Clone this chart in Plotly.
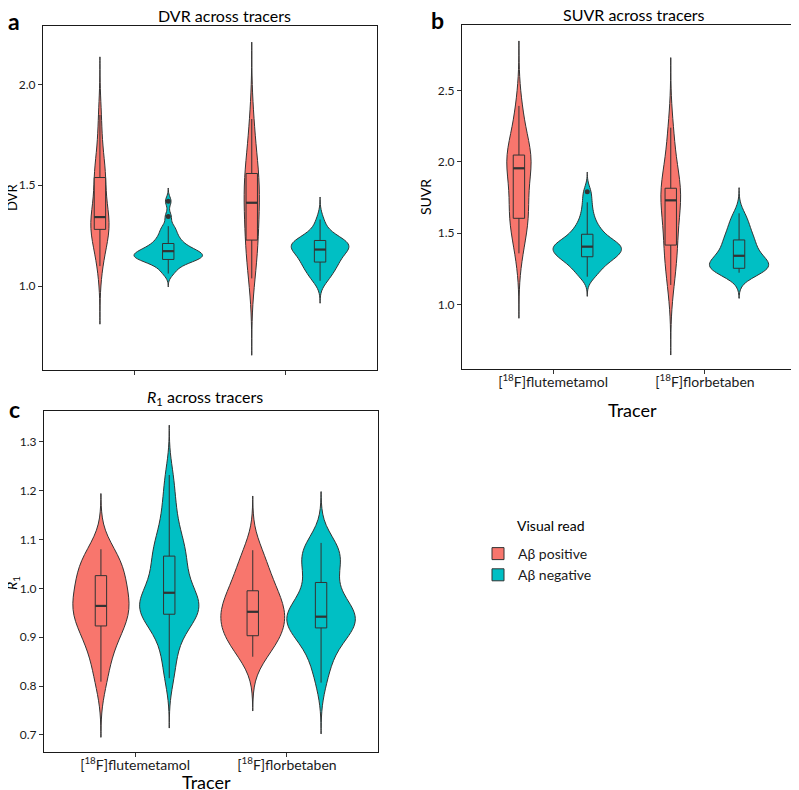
import plotly.graph_objects as go

# colours used by ggplot's default two-level palette
POS_COL = "#F8766D"
NEG_COL = "#00BFC4"
EDGE = "#333333"

tracers = ["[<sup>18</sup>F]flutemetamol", "[<sup>18</sup>F]florbetaben"]
groups = ["Aβ positive", "Aβ negative"]

# ---- DVR samples (estimated from the violin shapes) ----
dvr_flut_pos = [1.099, 1.16, 1.22, 1.25, 1.27, 1.29, 1.30, 1.31, 1.33, 1.342, 1.37, 1.42,
                1.50, 1.53, 1.55, 1.57, 1.62, 1.72, 1.848]
dvr_flut_neg = [1.062, 1.08, 1.10, 1.11, 1.12, 1.125, 1.13, 1.135, 1.14, 1.143, 1.146, 1.15,
                1.153, 1.156, 1.16, 1.165, 1.17, 1.175, 1.18, 1.185, 1.19, 1.20, 1.21, 1.22,
                1.23, 1.245, 1.26, 1.28, 1.297, 1.345, 1.42]
dvr_flor_pos = [1.038, 1.10, 1.17, 1.22, 1.25, 1.30, 1.36, 1.40, 1.43, 1.47, 1.52, 1.55,
                1.57, 1.63, 1.72, 1.828]
dvr_flor_neg = [1.026, 1.04, 1.06, 1.075, 1.09, 1.10, 1.11, 1.12, 1.13, 1.14, 1.15, 1.16,
                1.17, 1.18, 1.185, 1.19, 1.195, 1.20, 1.205, 1.21, 1.215, 1.22, 1.225, 1.23,
                1.24, 1.26, 1.29, 1.33]

# ---- SUVR samples ----
suvr_flut_pos = [1.358, 1.45, 1.55, 1.60, 1.62, 1.65, 1.70, 1.78, 1.86, 1.955, 1.97, 1.99,
                 2.01, 2.04, 2.06, 2.10, 2.18, 2.28, 2.393]
suvr_flut_neg = [1.194, 1.22, 1.25, 1.27, 1.29, 1.31, 1.32, 1.33, 1.34, 1.35, 1.36, 1.37,
                 1.38, 1.39, 1.40, 1.405, 1.41, 1.42, 1.43, 1.44, 1.45, 1.47, 1.49, 1.51,
                 1.53, 1.56, 1.60, 1.65, 1.716, 1.79]
suvr_flor_pos = [1.136, 1.25, 1.35, 1.40, 1.45, 1.55, 1.65, 1.72, 1.74, 1.77, 1.80, 1.82,
                 1.88, 1.98, 2.10, 2.240]
suvr_flor_neg = [1.222, 1.23, 1.235, 1.24, 1.245, 1.25, 1.255, 1.26, 1.27, 1.28, 1.29, 1.30,
                 1.31, 1.32, 1.34, 1.35, 1.37, 1.39, 1.41, 1.43, 1.45, 1.46, 1.48, 1.51,
                 1.54, 1.57, 1.60, 1.639]

# ---- R1 samples ----
r1_flut_pos = [0.809, 0.85, 0.88, 0.90, 0.915, 0.93, 0.94, 0.95, 0.96, 0.964, 0.975, 0.99,
               1.00, 1.015, 1.03, 1.04, 1.05, 1.065, 1.080]
r1_flut_neg = [0.816, 0.85, 0.88, 0.90, 0.92, 0.93, 0.94, 0.945, 0.95, 0.955, 0.96, 0.965,
               0.97, 0.975, 0.98, 0.99, 1.00, 1.01, 1.02, 1.035, 1.05, 1.06, 1.07, 1.08,
               1.095, 1.11, 1.13, 1.16, 1.19, 1.232]
r1_flor_pos = [0.860, 0.88, 0.895, 0.905, 0.915, 0.925, 0.94, 0.95, 0.955, 0.965, 0.98,
               0.995, 1.005, 1.03, 1.05, 1.078]
r1_flor_neg = [0.807, 0.84, 0.86, 0.88, 0.895, 0.905, 0.915, 0.92, 0.925, 0.93, 0.935, 0.94,
               0.942, 0.945, 0.95, 0.955, 0.965, 0.975, 0.99, 1.005, 1.02, 1.04, 1.055, 1.065,
               1.07, 1.075, 1.085, 1.093]

# box statistics, order: flut+, flut-, flor+, flor-
dvr_q1 = [1.281, 1.132, 1.228, 1.119]
dvr_med = [1.342, 1.173, 1.413, 1.181]
dvr_q3 = [1.538, 1.211, 1.558, 1.226]
dvr_lo = [1.099, 1.062, 1.038, 1.026]
dvr_hi = [1.848, 1.297, 1.828, 1.330]
dvr_out = [[], [1.345, 1.42], [], []]

suvr_q1 = [1.604, 1.334, 1.416, 1.253]
suvr_med = [1.955, 1.405, 1.730, 1.341]
suvr_q3 = [2.048, 1.492, 1.815, 1.452]
suvr_lo = [1.358, 1.194, 1.136, 1.222]
suvr_hi = [2.393, 1.716, 2.240, 1.639]
suvr_out = [[], [1.79], [], []]

r1_q1 = [0.923, 0.947, 0.903, 0.919]
r1_med = [0.964, 0.991, 0.952, 0.942]
r1_q3 = [1.026, 1.066, 0.995, 1.012]
r1_lo = [0.809, 0.816, 0.860, 0.807]
r1_hi = [1.080, 1.232, 1.078, 1.093]
r1_out = [[], [], [], []]

# kernel bandwidths and violin widths (x units) per group
dvr_bw = [0.096, 0.022, 0.127, 0.037]
dvr_w = [0.12, 0.45, 0.10, 0.38]
suvr_bw = [0.152, 0.046, 0.164, 0.060]
suvr_w = [0.16, 0.45, 0.13, 0.39]
r1_bw = [0.038, 0.034, 0.037, 0.035]
r1_w = [0.37, 0.39, 0.42, 0.45]

# the page body has an 8px margin, so the figure is a bit smaller and
# positions are given in page pixels and shifted
OFF = 8
W, H = 799 - OFF, 790 - OFF
def px(x):
    return (x - OFF) / W
def py(y):
    return 1 - (y - OFF) / H

BOX_W = 0.075
DODGE = 0.225

fig = go.Figure()


def add_panel(samples, bws, widths, q1, med, q3, lo, hi, outs, ax, legend):
    xa, ya = "x" + ax, "y" + ax
    for i, s in enumerate(samples):
        cat = 1 + i // 2
        is_pos = i % 2 == 0
        pos = cat - DODGE if is_pos else cat + DODGE
        col = POS_COL if is_pos else NEG_COL
        grp = groups[0] if is_pos else groups[1]
        bw = bws[i]
        fig.add_trace(go.Violin(
            y=s, x0=pos, width=widths[i], bandwidth=bw,
            spanmode="manual", span=[min(s) - 3 * bw, max(s) + 3 * bw],
            scalemode="width", fillcolor=col, line=dict(color=EDGE, width=1),
            points=False, name=grp, legendgroup=grp,
            showlegend=legend and cat == 1, xaxis=xa, yaxis=ya, hoverinfo="skip"))
    for i in range(len(samples)):
        cat = 1 + i // 2
        is_pos = i % 2 == 0
        pos = cat - DODGE if is_pos else cat + DODGE
        col = POS_COL if is_pos else NEG_COL
        fig.add_trace(go.Box(
            x=[pos], q1=[q1[i]], median=[med[i]], q3=[q3[i]],
            lowerfence=[lo[i]], upperfence=[hi[i]], orientation="v",
            width=BOX_W, whiskerwidth=0, fillcolor=col,
            line=dict(color=EDGE, width=1), boxpoints=False,
            showlegend=False, xaxis=xa, yaxis=ya, hoverinfo="skip"))
        # thicker median bar like ggplot
        fig.add_trace(go.Scatter(
            x=[pos - BOX_W / 2, pos + BOX_W / 2], y=[med[i], med[i]],
            mode="lines", line=dict(color=EDGE, width=2.2),
            showlegend=False, xaxis=xa, yaxis=ya, hoverinfo="skip"))
        if outs[i]:
            fig.add_trace(go.Scatter(
                x=[pos] * len(outs[i]), y=outs[i], mode="markers",
                marker=dict(color=EDGE, size=5),
                showlegend=False, xaxis=xa, yaxis=ya, hoverinfo="skip"))


add_panel([dvr_flut_pos, dvr_flut_neg, dvr_flor_pos, dvr_flor_neg], dvr_bw, dvr_w,
          dvr_q1, dvr_med, dvr_q3, dvr_lo, dvr_hi, dvr_out, "", False)
add_panel([suvr_flut_pos, suvr_flut_neg, suvr_flor_pos, suvr_flor_neg], suvr_bw, suvr_w,
          suvr_q1, suvr_med, suvr_q3, suvr_lo, suvr_hi, suvr_out, "2", False)
add_panel([r1_flut_pos, r1_flut_neg, r1_flor_pos, r1_flor_neg], r1_bw, r1_w,
          r1_q1, r1_med, r1_q3, r1_lo, r1_hi, r1_out, "3", True)

TXT = "#1a1a1a"


def xaxis(dom, anchor, labels):
    return dict(domain=dom, anchor=anchor, range=[0.4, 2.6], tickvals=[1, 2],
                ticktext=tracers if labels else ["", ""], showline=True, mirror=True,
                linecolor="#1a1a1a", linewidth=1.3, ticks="outside", ticklen=4,
                tickcolor=EDGE, tickwidth=1, showgrid=False, zeroline=False,
                tickfont=dict(size=14, color=TXT), automargin=False,
                ticklabelstandoff=-4)


def yaxis(dom, anchor, rng, t0, dt):
    return dict(domain=dom, anchor=anchor, range=rng, tick0=t0, dtick=dt,
                tickformat=".1f", showline=True, mirror=True, linecolor="#1a1a1a",
                linewidth=1.3, ticks="outside", ticklen=4, tickcolor=EDGE, tickwidth=1,
                showgrid=False, zeroline=False, tickfont=dict(size=12, color=TXT),
                automargin=False, ticklabelstandoff=0)


fig.update_layout(
    width=W, height=H, margin=dict(l=0, r=0, t=0, b=0),
    paper_bgcolor="white", plot_bgcolor="white",
    font=dict(family="Lato, Open Sans, sans-serif", color=TXT),
    violinmode="overlay", boxmode="overlay",
    xaxis=xaxis([px(43), px(377)], "y", False),
    yaxis=yaxis([py(370), py(26)], "x", [0.584, 2.289], 1.0, 0.5),
    xaxis2=xaxis([px(462), px(796)], "y2", True),
    yaxis2=yaxis([py(369), py(25)], "x2", [0.546, 2.961], 1.0, 0.5),
    xaxis3=xaxis([px(44), px(378)], "y3", True),
    yaxis3=yaxis([py(752), py(411)], "x3", [0.665, 1.363], 0.7, 0.1),
    legend=dict(x=px(478), y=py(538), xanchor="left", yanchor="top",
                font=dict(size=14), tracegroupgap=0, bgcolor="rgba(0,0,0,0)"),
)

notes = [
    # panel letters
    dict(text="<b>a</b>", x=px(14), y=py(21), size=23),
    dict(text="<b>b</b>", x=px(437), y=py(20), size=23),
    dict(text="<b>c</b>", x=px(14), y=py(409), size=23),
    # titles
    dict(text="DVR across tracers", x=px(224), y=py(16), size=16),
    dict(text="SUVR across tracers", x=px(634), y=py(15), size=16),
    dict(text="<i>R</i><sub>1</sub> across tracers", x=px(205), y=py(397), size=16),
    # axis titles
    dict(text="Tracer", x=px(632), y=py(410), size=18),
    dict(text="Tracer", x=px(207), y=py(782), size=18),
    dict(text="DVR", x=px(12), y=py(198), size=13, angle=-90),
    dict(text="SUVR", x=px(425), y=py(197), size=14, angle=-90),
    dict(text="<i>R</i><sub>1</sub>", x=px(12), y=py(583), size=14, angle=-90),
    # legend heading
    dict(text="Visual read", x=px(551), y=py(525), size=14),
]
for n in notes:
    fig.add_annotation(text=n["text"], x=n["x"], y=n["y"], xref="paper", yref="paper",
                       xanchor="center", yanchor="middle", showarrow=False,
                       textangle=n.get("angle", 0), font=dict(size=n["size"], color="black"))

fig.write_html("out.html")
